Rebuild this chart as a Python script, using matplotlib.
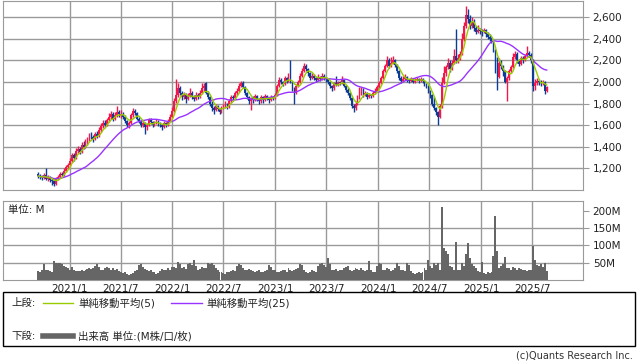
import numpy as np
import pandas as pd
import matplotlib
matplotlib.use('Agg')
import matplotlib.pyplot as plt
from matplotlib.patches import Rectangle
from matplotlib.lines import Line2D

plt.rcParams['font.family'] = ['DejaVu Sans', 'Noto Sans CJK JP']

# weekly candles, 2020/9 - 2025/8
dates = pd.date_range('2020-09-11', periods=259, freq='7D')

opens = [
    1150, 1130, 1120, 1110, 1140, 1100, 1120, 1090, 1080, 1060, 1100, 1120, 1150,
    1140, 1180, 1210, 1230, 1270, 1320, 1300, 1360, 1380, 1350, 1420, 1400, 1440,
    1470, 1500, 1490, 1470, 1520, 1500, 1560, 1590, 1620, 1600, 1650, 1680, 1700,
    1660, 1690, 1720, 1690, 1700, 1680, 1640, 1600, 1620, 1690, 1730, 1710, 1660,
    1640, 1600, 1620, 1580, 1600, 1650, 1630, 1600, 1620, 1640, 1610, 1600, 1580,
    1620, 1600, 1640, 1680, 1730, 1820, 1880, 1940, 1900, 1860, 1880, 1840, 1870,
    1900, 1860, 1840, 1880, 1860, 1900, 1940, 1990, 1900, 1860, 1800, 1760, 1740,
    1780, 1750, 1720, 1760, 1780, 1800, 1770, 1820, 1860, 1850, 1900, 1920, 1960,
    1990, 1950, 1900, 1860, 1820, 1850, 1830, 1870, 1840, 1820, 1860, 1830, 1870,
    1850, 1830, 1860, 1850, 1880, 1960, 2020, 2000, 1980, 2040, 2010, 2060, 2000,
    1940, 1900, 1960, 2000, 2060, 2100, 2150, 2120, 2080, 2040, 2060, 2040, 2020,
    2050, 2030, 2060, 2040, 2030, 2000, 1960, 1940, 1990, 1970, 2000, 1990, 2020,
    1960, 1930, 1900, 1850, 1780, 1760, 1800, 1850, 1900, 1930, 1880, 1900, 1860,
    1880, 1870, 1900, 1920, 1950, 1990, 2040, 2100, 2150, 2200, 2150, 2180, 2200,
    2160, 2100, 2040, 2010, 2030, 2050, 2020, 2010, 2030, 2000, 2020, 2030, 2010,
    2030, 2010, 1980, 1960, 1920, 1880, 1800, 1760, 1720, 1680, 1780, 1990, 2080,
    2140, 2180, 2120, 2180, 2240, 2200, 2220, 2260, 2400, 2520, 2620, 2580, 2520,
    2560, 2500, 2460, 2480, 2470, 2460, 2480, 2440, 2420, 2400, 2380, 2300, 2120,
    2050, 2180, 2150, 2100, 2000, 2040, 2100, 2140, 2230, 2260, 2200, 2170, 2220,
    2200, 2240, 2270, 2250, 2200, 1960, 1990, 2010, 2000, 1990, 2000, 1920,
]
highs = [
    1170, 1150, 1140, 1160, 1200, 1140, 1130, 1110, 1100, 1120, 1140, 1170, 1170,
    1200, 1230, 1250, 1300, 1340, 1340, 1390, 1410, 1400, 1440, 1450, 1470, 1490,
    1530, 1540, 1510, 1540, 1550, 1580, 1620, 1650, 1650, 1670, 1710, 1730, 1720,
    1720, 1780, 1740, 1740, 1720, 1690, 1650, 1640, 1710, 1760, 1750, 1720, 1680,
    1650, 1640, 1630, 1620, 1670, 1670, 1640, 1640, 1660, 1650, 1630, 1610, 1640,
    1630, 1660, 1700, 1770, 1850, 2030, 1990, 1960, 1920, 1910, 1900, 1900, 1940,
    1920, 1880, 1910, 1900, 1930, 1990, 1990, 2000, 1920, 1870, 1820, 1780, 1800,
    1790, 1760, 1780, 1800, 1820, 1810, 1840, 1880, 1880, 1920, 1940, 1990, 2010,
    2010, 1960, 1910, 1870, 1860, 1870, 1890, 1880, 1850, 1880, 1870, 1890, 1880,
    1860, 1880, 1870, 1900, 1980, 2050, 2040, 2010, 2060, 2050, 2080, 2200, 2010,
    1950, 1980, 2020, 2080, 2130, 2180, 2170, 2130, 2090, 2080, 2070, 2050, 2070,
    2060, 2080, 2070, 2050, 2040, 2010, 1970, 2000, 2060, 2010, 2010, 2060, 2030,
    1970, 1940, 1910, 1860, 1800, 1820, 1880, 1950, 1950, 1940, 1920, 1910, 1900,
    1890, 1920, 1940, 1970, 2010, 2060, 2120, 2170, 2240, 2220, 2230, 2240, 2210,
    2170, 2110, 2060, 2060, 2070, 2060, 2030, 2050, 2040, 2040, 2050, 2040, 2050,
    2040, 2020, 1990, 1970, 1930, 1890, 1860, 1770, 1730, 1800, 2050, 2150, 2160,
    2220, 2200, 2200, 2310, 2490, 2260, 2290, 2450, 2560, 2700, 2680, 2620, 2600,
    2580, 2520, 2530, 2500, 2490, 2500, 2490, 2460, 2440, 2420, 2390, 2310, 2230,
    2220, 2200, 2160, 2110, 2060, 2120, 2160, 2270, 2290, 2280, 2210, 2240, 2240,
    2260, 2330, 2290, 2270, 2210, 2030, 2040, 2030, 2020, 2020, 2010, 1960,
]
lows = [
    1110, 1100, 1090, 1100, 1090, 1080, 1070, 1050, 1040, 1050, 1090, 1110, 1120,
    1130, 1170, 1190, 1220, 1260, 1270, 1290, 1340, 1330, 1340, 1380, 1390, 1420,
    1450, 1470, 1440, 1460, 1480, 1490, 1540, 1570, 1580, 1590, 1630, 1660, 1640,
    1650, 1680, 1680, 1670, 1660, 1620, 1580, 1570, 1610, 1680, 1690, 1650, 1620,
    1580, 1580, 1520, 1560, 1590, 1610, 1580, 1590, 1610, 1590, 1580, 1560, 1570,
    1580, 1590, 1630, 1670, 1720, 1810, 1860, 1880, 1830, 1840, 1810, 1830, 1860,
    1840, 1820, 1830, 1840, 1850, 1890, 1920, 1890, 1840, 1780, 1730, 1700, 1730,
    1730, 1700, 1710, 1750, 1760, 1750, 1760, 1810, 1830, 1840, 1880, 1910, 1950,
    1940, 1880, 1840, 1800, 1740, 1810, 1820, 1820, 1800, 1810, 1810, 1820, 1830,
    1810, 1820, 1830, 1840, 1870, 1950, 1980, 1960, 1970, 1990, 2000, 1990, 1920,
    1800, 1890, 1950, 1990, 2050, 2090, 2100, 2060, 2020, 2030, 2020, 2000, 2010,
    2010, 2020, 2020, 2000, 1980, 1940, 1920, 1930, 1960, 1960, 1970, 1980, 1950,
    1910, 1880, 1830, 1760, 1720, 1740, 1790, 1840, 1880, 1860, 1870, 1840, 1850,
    1850, 1860, 1890, 1910, 1940, 1980, 2030, 2090, 2140, 2130, 2140, 2170, 2140,
    2080, 2020, 1990, 2000, 2020, 2000, 1990, 2000, 1990, 1990, 2010, 1990, 2000,
    1990, 1960, 1940, 1900, 1850, 1780, 1740, 1690, 1600, 1670, 1760, 1980, 2060,
    2120, 2090, 2110, 2170, 2180, 2180, 2200, 2250, 2380, 2500, 2550, 2490, 2500,
    2470, 2440, 2450, 2440, 2430, 2450, 2420, 2400, 2380, 2360, 2280, 2080, 1930,
    2040, 2120, 2060, 1990, 1820, 2020, 2080, 2130, 2210, 2180, 2150, 2160, 2180,
    2190, 2230, 2230, 2180, 1920, 1930, 1970, 1970, 1960, 1970, 1890, 1910,
]
closes = [
    1130, 1120, 1110, 1140, 1100, 1120, 1090, 1080, 1060, 1100, 1120, 1150, 1140,
    1180, 1210, 1230, 1270, 1320, 1300, 1360, 1380, 1350, 1420, 1400, 1440, 1470,
    1500, 1490, 1470, 1520, 1500, 1560, 1590, 1620, 1600, 1650, 1680, 1700, 1660,
    1690, 1720, 1700, 1700, 1680, 1640, 1600, 1620, 1690, 1730, 1710, 1660, 1640,
    1600, 1620, 1580, 1600, 1650, 1630, 1600, 1620, 1640, 1610, 1600, 1580, 1620,
    1600, 1640, 1680, 1730, 1820, 1880, 1940, 1900, 1860, 1880, 1840, 1870, 1900,
    1860, 1840, 1880, 1860, 1900, 1940, 1960, 1900, 1860, 1800, 1760, 1740, 1780,
    1750, 1720, 1760, 1780, 1800, 1770, 1820, 1860, 1850, 1900, 1920, 1960, 1990,
    1950, 1900, 1860, 1820, 1850, 1830, 1870, 1840, 1820, 1860, 1830, 1870, 1850,
    1830, 1860, 1850, 1880, 1960, 2020, 2000, 1980, 2040, 2010, 2060, 2000, 1940,
    1900, 1960, 2000, 2060, 2100, 2150, 2120, 2080, 2040, 2060, 2040, 2020, 2050,
    2030, 2060, 2040, 2030, 2000, 1960, 1940, 1990, 1970, 2000, 1990, 2020, 1960,
    1930, 1900, 1850, 1780, 1760, 1800, 1850, 1900, 1930, 1880, 1900, 1860, 1880,
    1870, 1900, 1920, 1950, 1990, 2040, 2100, 2150, 2200, 2150, 2180, 2200, 2160,
    2100, 2040, 2010, 2030, 2050, 2020, 2010, 2030, 2000, 2020, 2030, 2010, 2030,
    2010, 1980, 1960, 1920, 1880, 1800, 1760, 1720, 1680, 1780, 1990, 2080, 2140,
    2180, 2120, 2180, 2240, 2200, 2220, 2260, 2400, 2520, 2620, 2580, 2520, 2560,
    2500, 2460, 2480, 2470, 2460, 2480, 2440, 2420, 2400, 2380, 2300, 2120, 2050,
    2180, 2150, 2100, 2000, 2040, 2100, 2140, 2230, 2260, 2200, 2170, 2220, 2200,
    2240, 2270, 2250, 2200, 1960, 1990, 2010, 2000, 1990, 2000, 1920, 1950,
]
# weekly volume, millions
volume = [
    25, 22, 30, 45, 28, 30, 26, 24, 55, 50, 48, 50, 46,
    40, 38, 35, 30, 38, 30, 26, 27, 25, 28, 26, 30, 33,
    34, 32, 35, 40, 46, 38, 30, 28, 35, 38, 36, 30, 34,
    28, 32, 26, 24, 20, 24, 18, 15, 16, 20, 25, 30, 42,
    45, 38, 32, 28, 26, 30, 24, 22, 18, 20, 26, 32, 30,
    28, 34, 30, 38, 38, 34, 52, 45, 36, 38, 32, 46, 48,
    44, 58, 40, 30, 32, 38, 34, 36, 48, 46, 50, 44, 34,
    30, 24, 22, 20, 18, 22, 24, 26, 28, 26, 40, 45, 42,
    36, 30, 28, 32, 30, 26, 24, 26, 28, 24, 22, 26, 30,
    42, 38, 30, 28, 24, 22, 26, 30, 28, 24, 34, 30, 26,
    28, 32, 36, 45, 44, 30, 24, 20, 22, 28, 26, 24, 40,
    46, 50, 42, 38, 63, 45, 30, 28, 32, 26, 30, 28, 34,
    38, 40, 30, 26, 28, 36, 32, 30, 34, 28, 26, 30, 55,
    30, 24, 22, 40, 50, 46, 30, 28, 34, 32, 26, 30, 36,
    48, 40, 28, 30, 26, 50, 44, 26, 20, 18, 20, 22, 20,
    24, 35, 30, 58, 40, 35, 48, 42, 50, 30, 211, 92, 84,
    75, 40, 38, 30, 110, 30, 28, 50, 40, 75, 107, 63, 45,
    40, 36, 25, 24, 53, 20, 18, 22, 20, 24, 70, 185, 84,
    36, 40, 45, 66, 35, 36, 30, 38, 34, 30, 36, 32, 28,
    30, 26, 28, 30, 98, 57, 42, 40, 45, 38, 50, 25,
]

month_ticks = pd.to_datetime(['2021-01-01', '2021-07-01', '2022-01-01', '2022-07-01',
                              '2023-01-01', '2023-07-01', '2024-01-01', '2024-07-01',
                              '2025-01-01', '2025-07-01'])
month_labels = ['2021/1', '2021/7', '2022/1', '2022/7', '2023/1',
                '2023/7', '2024/1', '2024/7', '2025/1', '2025/7']
price_ticks = [1200, 1400, 1600, 1800, 2000, 2200, 2400, 2600]
vol_ticks = [50, 100, 150, 200]

df = pd.DataFrame({'o': opens, 'h': highs, 'l': lows, 'c': closes, 'v': volume}, index=dates)
df['ma5'] = df['c'].rolling(5, min_periods=1).mean()
df['ma25'] = df['c'].rolling(25, min_periods=1).mean()

W, H = 638, 362
GRID = '#9a9a9a'
UP, DOWN = '#f5174a', '#0d3c96'

def fx(x):
    return x / W

def fy(y):
    return 1 - y / H

fig = plt.figure(figsize=(W / 100, H / 100), dpi=100)
xlim = (pd.Timestamp('2020-05-09'), pd.Timestamp('2025-12-29'))

# price panel
ax = fig.add_axes([fx(3), fy(190), fx(580), 189 / H])
up = df['c'] >= df['o']
colors = np.where(up, UP, DOWN)
ax.vlines(df.index, df['l'], df['h'], colors=colors, lw=1.0, zorder=3)
body = np.maximum((df['c'] - df['o']).abs(), 5)
ax.bar(df.index, body, bottom=np.minimum(df['o'], df['c']), width=6.3,
       color=colors, linewidth=0, zorder=3)
ax.plot(df.index, df['ma25'], color='#9933ff', lw=1, zorder=4)
ax.plot(df.index, df['ma5'], color='#99cc00', lw=1, zorder=5)
ax.set_xlim(xlim)
ax.set_ylim(1000, 2750)
ax.set_xticks(month_ticks)
ax.set_xticklabels([])
ax.set_yticks(price_ticks)
ax.set_yticklabels([f'{p:,}' for p in price_ticks])
ax.yaxis.tick_right()
ax.tick_params(axis='x', length=0)
ax.tick_params(axis='y', length=4, color=GRID, labelsize=7.5, pad=3, labelcolor='#222222')
ax.grid(True, color=GRID, lw=1)
ax.set_axisbelow(True)
for s in ax.spines.values():
    s.set_color(GRID)

# volume panel
ax2 = fig.add_axes([fx(3), fy(280), fx(580), 79 / H])
ax2.bar(df.index, df['v'], width=7, color='#666666', linewidth=0, zorder=3)
ax2.set_xlim(xlim)
ax2.set_ylim(0, 228)
ax2.set_xticks(month_ticks)
ax2.set_xticklabels(month_labels)
ax2.set_yticks(vol_ticks)
ax2.set_yticklabels([f'{v}M' for v in vol_ticks])
ax2.yaxis.tick_right()
ax2.tick_params(axis='x', length=0, labelsize=7.5, pad=3, labelcolor='#222222')
ax2.tick_params(axis='y', length=4, color=GRID, labelsize=7.5, pad=3, labelcolor='#222222')
ax2.xaxis.grid(True, color=GRID, lw=1)
for v in vol_ticks[:-1]:
    ax2.axhline(v, color=GRID, lw=1, zorder=1)
ax2.set_axisbelow(True)
for s in ax2.spines.values():
    s.set_color(GRID)
ax2.text(5 / 580, 0.89, '単位: M', transform=ax2.transAxes, fontsize=7.5,
         va='center', ha='left', color='#222222')

# legend box
fig.patches.append(Rectangle((fx(3), fy(346)), fx(632), 54 / H, transform=fig.transFigure,
                             fill=False, edgecolor='black', lw=1))
fs = 7.5
fig.text(fx(11), fy(303), '上段:', fontsize=fs, va='center', color='#222222')
fig.add_artist(Line2D([fx(43), fx(73)], [fy(303), fy(303)], color='#99cc00', lw=1))
fig.text(fx(78), fy(303), '単純移動平均(5)', fontsize=fs, va='center', color='#222222')
fig.add_artist(Line2D([fx(171), fx(202)], [fy(303), fy(303)], color='#9933ff', lw=1))
fig.text(fx(206), fy(303), '単純移動平均(25)', fontsize=fs, va='center', color='#222222')
fig.text(fx(11), fy(336), '下段:', fontsize=fs, va='center', color='#222222')
fig.add_artist(Line2D([fx(43), fx(73)], [fy(336), fy(336)], color='#666666', lw=4))
fig.text(fx(78), fy(336), '出来高 単位:(M株/口/枚)', fontsize=fs, va='center', color='#222222')

fig.text(fx(633), fy(356), '(c)Quants Research Inc.', fontsize=7, ha='right', va='center',
         color='#333333')

fig.savefig('out.png', dpi=100)
